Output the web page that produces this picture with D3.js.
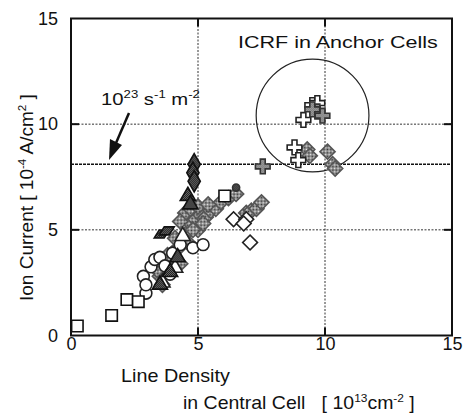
<!DOCTYPE html>
<html>
<head>
<meta charset="utf-8">
<script src="https://cdn.jsdelivr.net/npm/d3@7"></script>
<style>
  body { margin: 0; background: #fff; }
  svg { display: block; font-family: "Liberation Sans", Arial, sans-serif; }
</style>
</head>
<body>
<svg id="chart" width="463" height="415"></svg>
<script>
// axis ticks
const xTicks = [0, 5, 10, 15]
const yTicks = [0, 5, 10, 15]

// series (x: line density 1e13 cm^-2, y: ion current 1e-4 A/cm^2)
const openSquareX = [0.25, 1.6, 2.2, 2.65, 6.05]
const openSquareY = [0.45, 0.95, 1.7, 1.6, 6.6]

const openCircleX = [2.85, 2.95, 2.95, 3.15, 3.3, 3.5, 3.7, 4.0, 4.3, 4.8, 5.2, 3.9]
const openCircleY = [2.8, 2.0, 2.4, 3.25, 3.6, 3.7, 3.3, 3.9, 4.3, 4.15, 4.3, 2.9]

const grayX = [3.5, 3.7, 3.9, 4.0, 4.2, 3.8, 4.4, 4.6, 4.7, 4.9, 5.1, 5.3, 5.5, 5.7, 5.9, 6.2, 6.5,
  6.9, 7.1, 7.3, 7.5, 5.0, 4.3, 3.6, 4.6, 5.2, 4.5, 4.7, 5.0, 5.4, 4.3, 4.8, 4.1, 3.4,
  9.3, 9.4, 10.1, 10.3, 10.4]
const grayY = [2.8, 3.2, 3.5, 3.9, 4.1, 3.8, 4.4, 4.9, 5.3, 5.5, 5.7, 5.6, 5.9, 6.0, 6.3, 6.5, 6.7,
  5.8, 5.9, 6.0, 6.3, 5.0, 3.4, 2.4, 4.4, 5.3, 5.8, 6.0, 6.1, 6.2, 5.4, 5.0, 4.6, 3.1,
  8.8, 8.5, 8.7, 8.1, 7.9]

const openDiamondX = [6.4, 6.9, 7.05, 6.8]
const openDiamondY = [5.5, 5.5, 4.4, 5.3]

const openTriangleX = [4.4, 3.6, 4.1]
const openTriangleY = [4.7, 2.5, 3.2]

const darkTriangleX = [4.6, 4.7, 3.9, 3.5, 4.2]
const darkTriangleY = [6.6, 6.2, 3.0, 2.4, 3.7]

const darkBlobX = [4.85, 4.8, 4.85]
const darkBlobY = [8.1, 7.7, 7.3]

const parallelogramX = [3.55, 3.75]
const parallelogramY = [4.8, 4.95]

const openCrossX = [9.15, 9.5, 9.7, 8.8, 8.95]
const openCrossY = [10.2, 10.9, 11.0, 8.9, 8.3]

const grayCrossX = [7.55, 9.7, 9.9, 9.5]
const grayCrossY = [8.0, 10.6, 10.4, 10.7]

const dotX = [6.5]
const dotY = [7.0]

// reference line (1e23 s^-1 m^-2) and ICRF circle
const fluxLevel = 8.1
const icrfCenter = [9.51, 10.41]
const icrfRadius = 2.22

const svg = d3.select('#chart')
const x = d3.scaleLinear().domain([0, 15]).range([71, 452])
const y = d3.scaleLinear().domain([0, 15]).range([335.5, 18.5])

// dither patterns for the shaded markers
const defs = svg.append('defs')
function dither(id, dark, light) {
  const p = defs.append('pattern').attr('id', id)
    .attr('width', 2).attr('height', 2).attr('patternUnits', 'userSpaceOnUse')
  p.append('rect').attr('width', 2).attr('height', 2).attr('fill', light)
  p.append('rect').attr('width', 1).attr('height', 1).attr('fill', dark)
  p.append('rect').attr('x', 1).attr('y', 1).attr('width', 1).attr('height', 1).attr('fill', dark)
}
dither('gray', '#333', '#e8e8e8')
dither('dark', '#111', '#777')

// grid lines
const grid = svg.append('g')
grid.selectAll('.gx').data([5, 10]).enter().append('line')
  .attr('x1', (d) => x(d)).attr('x2', (d) => x(d))
  .attr('y1', y(15)).attr('y2', y(0))
  .attr('stroke', '#333').attr('stroke-width', 1).attr('stroke-dasharray', '2,1.5')
grid.selectAll('.gy').data([5, 10]).enter().append('line')
  .attr('y1', (d) => y(d)).attr('y2', (d) => y(d))
  .attr('x1', x(0)).attr('x2', x(15))
  .attr('stroke', '#333').attr('stroke-width', 1).attr('stroke-dasharray', '2,1.5')
grid.append('line')
  .attr('x1', x(0)).attr('x2', x(15))
  .attr('y1', y(fluxLevel)).attr('y2', y(fluxLevel))
  .attr('stroke', '#111').attr('stroke-width', 1.6).attr('stroke-dasharray', '3,1')

// inward tick marks
const ticks = svg.append('g').attr('stroke', '#111').attr('stroke-width', 2)
;[5, 10].forEach((d) => {
  ticks.append('line').attr('x1', x(d)).attr('x2', x(d)).attr('y1', y(0)).attr('y2', y(0) - 8)
  ticks.append('line').attr('x1', x(d)).attr('x2', x(d)).attr('y1', y(15)).attr('y2', y(15) + 8)
  ticks.append('line').attr('y1', y(d)).attr('y2', y(d)).attr('x1', x(0)).attr('x2', x(0) + 8)
  ticks.append('line').attr('y1', y(d)).attr('y2', y(d)).attr('x1', x(15)).attr('x2', x(15) - 8)
})

// ICRF circle
svg.append('circle')
  .attr('cx', x(icrfCenter[0])).attr('cy', y(icrfCenter[1]))
  .attr('r', x(icrfRadius) - x(0))
  .attr('fill', 'none').attr('stroke', '#222').attr('stroke-width', 1.2)

// markers
function pts(xs, ys) { return xs.map((v, i) => [v, ys[i]]) }
const sq = d3.symbol().type(d3.symbolSquare)
const marks = svg.append('g')

function drawSymbol(data, path, fill, stroke, rotate) {
  marks.append('g').selectAll('path').data(data).enter().append('path')
    .attr('transform', (d) => `translate(${x(d[0])},${y(d[1])})` + (rotate ? ` rotate(${rotate})` : ''))
    .attr('d', path)
    .attr('fill', fill).attr('stroke', stroke).attr('stroke-width', 1.6)
}

drawSymbol(pts(grayX, grayY), sq.size(115)(), 'url(#gray)', '#555', 45)
drawSymbol(pts(openDiamondX, openDiamondY), sq.size(110)(), '#fff', '#222', 45)
drawSymbol(pts(openCircleX, openCircleY), d3.symbol().type(d3.symbolCircle).size(110)(), '#fff', '#222')
drawSymbol(pts(openSquareX, openSquareY), sq.size(130)(), '#fff', '#111')
drawSymbol(pts(openTriangleX, openTriangleY), d3.symbol().type(d3.symbolTriangle).size(100)(), '#fff', '#222')
drawSymbol(pts(darkTriangleX, darkTriangleY), d3.symbol().type(d3.symbolTriangle).size(100)(), 'url(#dark)', '#111')
drawSymbol(pts(darkBlobX, darkBlobY), d3.symbol().type(d3.symbolDiamond).size(130)(), 'url(#dark)', '#111')
drawSymbol(pts(parallelogramX, parallelogramY), 'M-7,4L-2,-4L8,-4L3,4Z', 'url(#dark)', '#111')
drawSymbol(pts(openCrossX, openCrossY), d3.symbol().type(d3.symbolCross).size(120)(), '#fff', '#222')
drawSymbol(pts(grayCrossX, grayCrossY), d3.symbol().type(d3.symbolCross).size(120)(), 'url(#gray)', '#333')
drawSymbol(pts(dotX, dotY), d3.symbol().type(d3.symbolCircle).size(40)(), 'url(#dark)', '#333')

// frame
svg.append('rect')
  .attr('x', x(0)).attr('y', y(15))
  .attr('width', x(15) - x(0)).attr('height', y(0) - y(15))
  .attr('fill', 'none').attr('stroke', '#111').attr('stroke-width', 2)

// axes (labels only)
const xAxis = svg.append('g').attr('transform', `translate(0,${y(0)})`)
  .call(d3.axisBottom(x).tickValues(xTicks).tickSize(0).tickPadding(2).tickFormat(d3.format('d')))
const yAxis = svg.append('g').attr('transform', `translate(${x(0)},0)`)
  .call(d3.axisLeft(y).tickValues(yTicks).tickSize(0).tickPadding(13).tickFormat(d3.format('d')))
;[xAxis, yAxis].forEach((a) => {
  a.select('.domain').remove()
  a.selectAll('text').attr('font-size', 18).attr('fill', '#111')
    .attr('font-family', '"Liberation Sans", Arial, sans-serif')
})

// text helper: stretch a text horizontally to the measured width
function stretched(px, py, width, fontSize, build, rot) {
  const t = svg.append('text').attr('font-size', fontSize).attr('fill', '#111')
  build(t)
  const w = t.node().getBBox().width
  t.attr('transform', `translate(${px},${py})` + (rot ? ` rotate(${rot})` : '') + ` scale(${width / w},1)`)
  return t
}
function sup(t, s, base) {
  t.append('tspan').attr('dy', -7).attr('font-size', 11).text(s)
  t.append('tspan').attr('dy', 7).text(base)
}

stretched(238, 48, 200, 17, (t) => t.text('ICRF in Anchor Cells'))

stretched(101, 105, 99, 17, (t) => {
  t.append('tspan').text('10')
  sup(t, '23', ' s')
  sup(t, '-1', ' m')
  t.append('tspan').attr('dy', -7).attr('font-size', 11).text('-2')
})

// arrow to the flux line
svg.append('line')
  .attr('x1', 129).attr('y1', 113).attr('x2', 116).attr('y2', 143)
  .attr('stroke', '#111').attr('stroke-width', 2.5)
svg.append('path')
  .attr('d', 'M109,160L110,139L122,145Z')
  .attr('fill', '#111')

stretched(121, 382, 109, 18, (t) => t.text('Line Density'))

stretched(183, 409, 232, 18, (t) => {
  t.append('tspan').text('in Central Cell\u00a0\u00a0\u00a0[ 10')
  sup(t, '13', 'cm')
  sup(t, '-2', ' ]')
})

stretched(33, 301, 207, 18, (t) => {
  t.append('tspan').text('Ion Current [ 10')
  sup(t, '-4', ' A/cm')
  sup(t, '2', ' ]')
}, -90)
</script>
</body>
</html>
